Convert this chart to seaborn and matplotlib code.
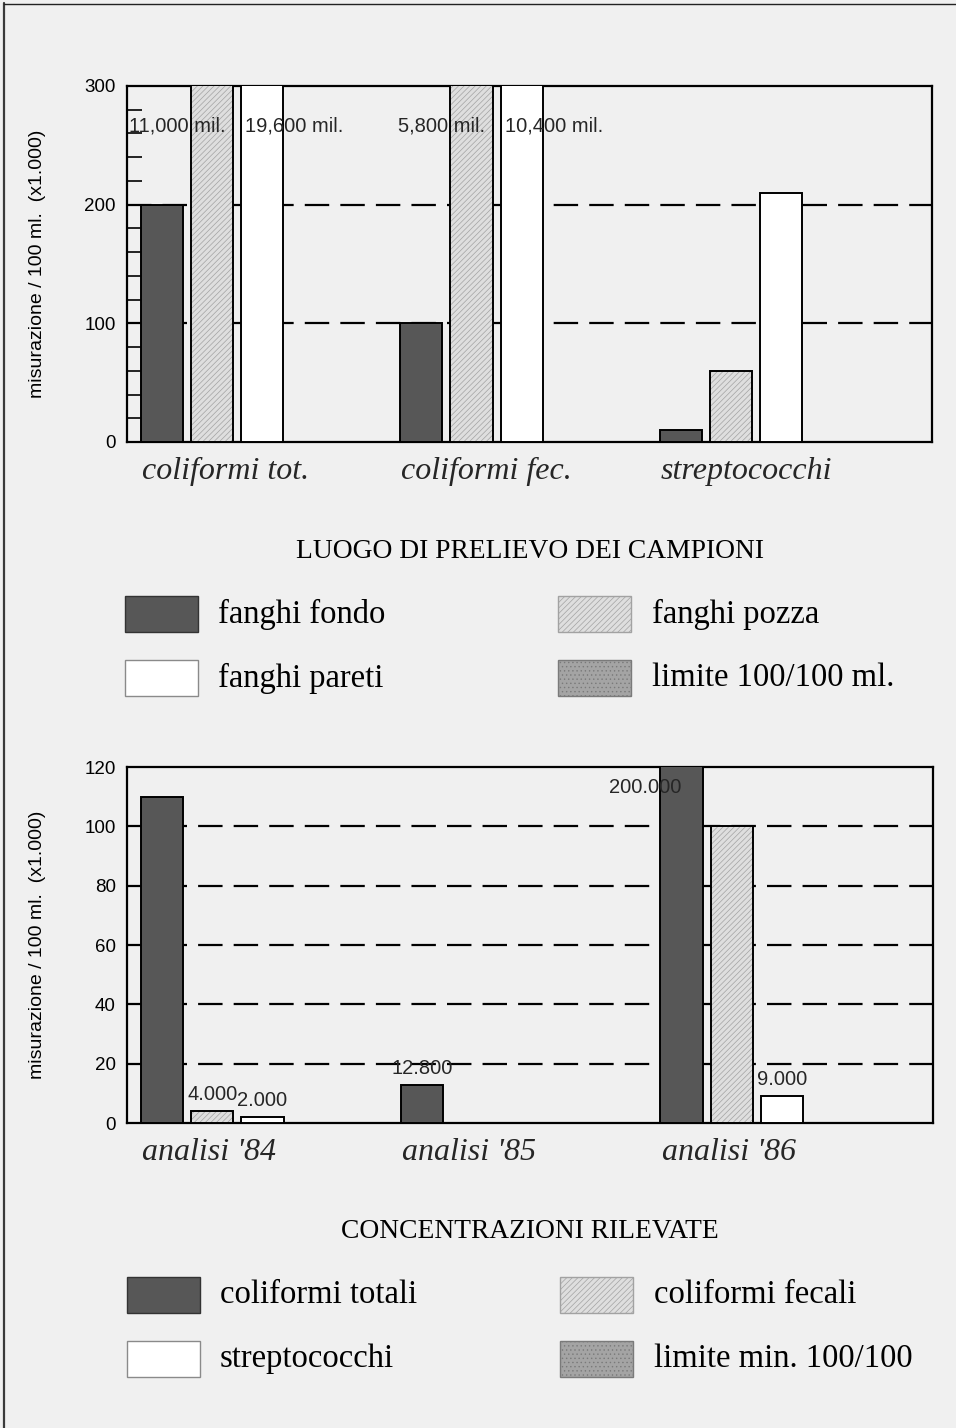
import numpy as np
import pandas as pd
import matplotlib
matplotlib.use("Agg")
import matplotlib.pyplot as plt
import seaborn as sns
from matplotlib.patches import Rectangle
from matplotlib.lines import Line2D
from matplotlib.ticker import MultipleLocator

# ---------------- data: top chart ----------------
top_categories = ["coliformi tot.", "coliformi fec.", "streptococchi"]
top_series = ["fanghi fondo", "fanghi pozza", "fanghi pareti"]
fanghi_fondo = [200, 100, 10]
fanghi_pozza = [11_000_000, 5_800_000, 60]      # x1.000 per 100 ml
fanghi_pareti = [19_600_000, 10_400_000, 210]
top_limits = [100, 200]
top_yticks = [0, 100, 200, 300]
top_bar_labels = [  # (series, category, text, align, fraction of bar width)
    ("fanghi pozza", "coliformi tot.", "11,000 mil.", "right", 0.83),
    ("fanghi pareti", "coliformi tot.", "19,600 mil.", "left", 0.10),
    ("fanghi pozza", "coliformi fec.", "5,800 mil.", "right", 0.83),
    ("fanghi pareti", "coliformi fec.", "10,400 mil.", "left", 0.10),
]
top_title = "LUOGO DI PRELIEVO DEI CAMPIONI"
top_legend = ["fanghi fondo", "fanghi pozza", "fanghi pareti", "limite 100/100 ml."]

# ---------------- data: bottom chart ----------------
bottom_categories = ["analisi '84", "analisi '85", "analisi '86"]
bottom_series = ["coliformi totali", "coliformi fecali", "streptococchi"]
coliformi_totali = [110, 12.8, 200]
coliformi_fecali = [4, 0, 100]
streptococchi = [2, 0, 9]
bottom_limits = [20, 40, 60, 80, 100]
bottom_yticks = [0, 20, 40, 60, 80, 100, 120]
bottom_bar_labels = [
    ("coliformi fecali", "analisi '84", "4.000", "center", 0.5),
    ("streptococchi", "analisi '84", "2.000", "center", 0.5),
    ("coliformi totali", "analisi '85", "12.800", "center", 0.5),
    ("coliformi totali", "analisi '86", "200.000", "right", 0.5),
    ("streptococchi", "analisi '86", "9.000", "center", 0.5),
]
bottom_title = "CONCENTRAZIONI RILEVATE"
bottom_legend = ["coliformi totali", "coliformi fecali", "streptococchi", "limite min. 100/100"]

ylabel_text = "misurazione / 100 ml.  (x1.000)"

# ---------------- style ----------------
BG = "#f0f0f0"
DARK = "#575757"
LIGHT = "#dedede"
WHITE = "#ffffff"
MID = "#a4a4a4"
HATCH_C = "#a2a2a2"
SANS = ["Liberation Sans", "DejaVu Sans"]
SERIF = ["Liberation Serif", "DejaVu Serif"]

sns.set_theme(style="white")
plt.rcParams["font.family"] = SANS
plt.rcParams["hatch.linewidth"] = 0.5

W, H = 956, 1428
fig = plt.figure(figsize=(W / 100, H / 100), dpi=100, facecolor=BG)


def fx(px):
    return px / W


def fy(py):
    return 1 - py / H


def draw_chart(ax, categories, series, values, limits, ymax, yticks, minor,
               bar_labels, offscale_offset):
    rows = []
    for s, vals in zip(series, values):
        for c, v in zip(categories, vals):
            rows.append({"categoria": c, "serie": s, "valore": v})
    df = pd.DataFrame(rows)
    ax.set_facecolor(BG)
    sns.barplot(data=df, x="categoria", y="valore", hue="serie",
                order=categories, hue_order=series,
                palette=[DARK, LIGHT, WHITE], saturation=1,
                width=0.58, gap=0.16, errorbar=None, legend=False,
                edgecolor="black", linewidth=1.4, zorder=3, ax=ax)
    # hatched series: grey hatch lines, black outline on top
    for p in ax.containers[1].patches:
        p.set_hatch("//////")
        p.set_edgecolor(HATCH_C)
        p.set_linewidth(0)
        ax.add_patch(Rectangle((p.get_x(), p.get_y()), p.get_width(),
                               p.get_height(), fill=False, edgecolor="black",
                               lw=1.4, zorder=3.1))
    for y in limits:
        ax.axhline(y, color="black", lw=1.6, ls=(0, (11, 5)), zorder=1)

    ax.set_ylim(0, ymax)
    ax.set_xlim(-0.328, 2.775)
    ax.set_yticks(yticks)
    ax.set_yticklabels([str(t) for t in yticks])
    if minor:
        ax.yaxis.set_minor_locator(MultipleLocator(minor))
    ax.tick_params(axis="y", which="both", direction="in", length=11,
                   width=1.2, pad=8, labelsize=13.5, colors="black", left=True)
    ax.set_xticks([i - 0.27 for i in range(len(categories))])
    ax.set_xticklabels(categories, fontfamily=SERIF, fontstyle="italic",
                       fontsize=23, ha="left")
    ax.tick_params(axis="x", length=0, pad=11)
    ax.set_xlabel("")
    ax.set_ylabel(ylabel_text, fontsize=14, color="black")
    ax.yaxis.set_label_coords(-0.100, 0.5)
    for sp in ax.spines.values():
        sp.set_visible(True)
        sp.set_color("black")
        sp.set_linewidth(1.6)

    for s, c, text, align, frac in bar_labels:
        bar = ax.containers[series.index(s)].patches[categories.index(c)]
        x = bar.get_x() + frac * bar.get_width()
        val = bar.get_height()
        if val > ymax:
            ax.annotate(text, xy=(x, 1), xycoords=("data", "axes fraction"),
                        xytext=(0, offscale_offset), textcoords="offset points",
                        ha=align, va="center", fontsize=14.5, zorder=5)
        else:
            ax.annotate(text, xy=(x, val), xytext=(0, 5),
                        textcoords="offset points", ha=align, va="bottom",
                        fontsize=14.5, zorder=5)


def draw_legend(title, labels, ytitle, yrows, xpatch, xtext):
    fig.text(fx(530), fy(ytitle), title, ha="center", va="center",
             fontfamily=SERIF, fontsize=19.8, color="black")
    fills = [(DARK, "#333333", None), (LIGHT, HATCH_C, "//////"),
             (WHITE, "#8a8a8a", None), (MID, "#7a7a7a", "....")]
    slots = [(0, 0), (0, 1), (1, 0), (1, 1)]
    for lab, (fc, ec, hatch), (r, c) in zip(labels, fills, slots):
        yc = yrows[r]
        rect = Rectangle((fx(xpatch[c]), fy(yc + 18)), 73 / W, 36 / H,
                         transform=fig.transFigure, facecolor=fc,
                         edgecolor=ec, lw=1.0, hatch=hatch)
        fig.add_artist(rect)
        fig.text(fx(xtext[c]), fy(yc), lab, ha="left", va="center",
                 fontfamily=SERIF, fontsize=23.5, color="black")


ax1 = fig.add_axes([fx(127), fy(442), (932 - 127) / W, (442 - 86) / H])
draw_chart(ax1, top_categories, top_series,
           [fanghi_fondo, fanghi_pozza, fanghi_pareti],
           top_limits, 300, top_yticks, 20, top_bar_labels, -29)

ax2 = fig.add_axes([fx(127), fy(1123), (933 - 127) / W, (1123 - 767) / H])
draw_chart(ax2, bottom_categories, bottom_series,
           [coliformi_totali, coliformi_fecali, streptococchi],
           bottom_limits, 120, bottom_yticks, None, bottom_bar_labels, -15)

draw_legend(top_title, top_legend, 551, [614, 678], [125, 558], [218, 652])
draw_legend(bottom_title, bottom_legend, 1232, [1295, 1359], [127, 560], [220, 654])

# scanned page edge
fig.add_artist(Line2D([fx(4), fx(4)], [0, fy(3)], transform=fig.transFigure,
                      color="#3a3a3a", lw=1.6))
fig.add_artist(Line2D([fx(4), 1], [fy(3.5), fy(3.5)], transform=fig.transFigure,
                      color="#222222", lw=1.0))

fig.savefig("out.png", dpi=100, facecolor=BG)
